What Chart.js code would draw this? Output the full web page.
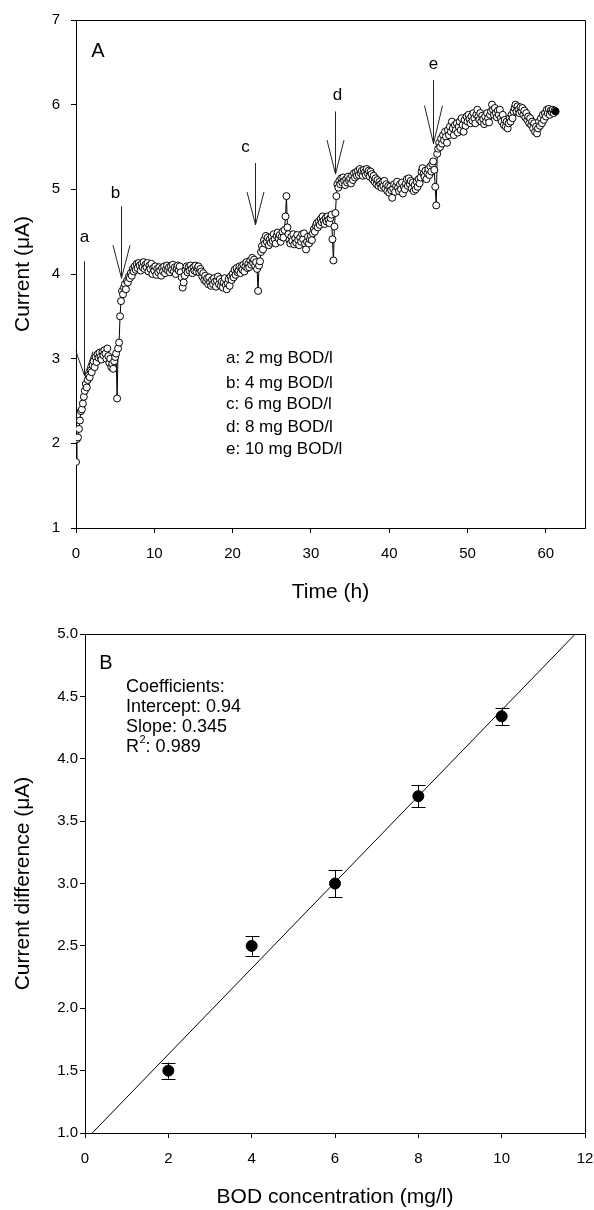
<!DOCTYPE html>
<html>
<head>
<meta charset="utf-8">
<script src="https://cdn.jsdelivr.net/npm/chart.js@4.4.1/dist/chart.umd.min.js"></script>
<style>
  html,body{margin:0;padding:0;background:#fff;}
  canvas{display:block;}
</style>
</head>
<body>
<canvas id="chartA" width="594" height="610"></canvas>
<canvas id="chartB" width="594" height="600"></canvas>
<script>
// ---- panel A: sensor current, one reading every 7.5 min (8 per line = 1 h) ----
const sampleHours = 0.125;
const currentA = [
  1.78, 2.05, 2.07, 2.17, 2.27, 2.38, 2.40, 2.47,
  2.55, 2.62, 2.70, 2.66, 2.75, 2.80, 2.78, 2.86,
  2.84, 2.92, 2.97, 2.90, 3.02, 2.96, 3.05, 3.01,
  3.07, 3.02, 2.99, 3.08, 3.04, 3.10, 3.06, 3.00,
  3.12, 3.03, 2.95, 3.00, 2.90, 2.94, 2.88, 2.97,
  3.02, 3.06, 2.53, 3.12, 3.19, 3.50, 3.68, 3.80,
  3.76, 3.84, 3.88, 3.82, 3.92, 3.90, 3.97, 3.95,
  4.01, 3.98, 4.06, 4.03, 4.09, 4.05, 4.12, 4.07,
  4.13, 4.10, 4.04, 4.12, 4.08, 4.14, 4.06, 4.11,
  4.08, 4.13, 4.03, 4.10, 4.06, 4.12, 4.00, 4.07,
  4.04, 4.09, 3.99, 4.06, 4.02, 4.08, 4.04, 3.98,
  4.07, 4.03, 4.09, 4.01, 4.06, 4.10, 4.04, 4.08,
  4.02, 4.09, 4.05, 4.11, 4.03, 4.08, 4.00, 4.07,
  4.10, 4.04, 4.09, 4.02, 3.96, 3.84, 3.90, 3.98,
  4.05, 4.09, 4.02, 4.08, 4.04, 4.10, 4.06, 4.01,
  4.08, 4.04, 4.10, 4.03, 4.07, 4.09, 4.02, 4.06,
  4.03, 3.97, 4.01, 3.93, 3.98, 3.91, 3.95, 3.88,
  3.96, 3.90, 3.86, 3.93, 3.88, 3.95, 3.91, 3.85,
  3.92, 3.97, 3.88, 3.94, 3.86, 3.91, 3.84, 3.90,
  3.95, 3.87, 3.82, 3.89, 3.94, 3.86, 3.97, 3.93,
  4.00, 3.96, 4.05, 3.99, 4.07, 4.02, 4.04, 4.09,
  4.01, 4.08, 4.05, 4.11, 4.03, 4.09, 4.14, 4.07,
  4.12, 4.08, 4.16, 4.11, 4.19, 4.13, 4.17, 4.10,
  4.14, 4.06, 3.80, 4.10, 4.15, 4.26, 4.33, 4.29,
  4.40, 4.36, 4.45, 4.38, 4.43, 4.34, 4.41, 4.37,
  4.44, 4.39, 4.47, 4.41, 4.36, 4.45, 4.49, 4.42,
  4.46, 4.38, 4.44, 4.50, 4.43, 4.52, 4.68, 4.92,
  4.55, 4.47, 4.40, 4.36, 4.44, 4.39, 4.47, 4.35,
  4.42, 4.37, 4.46, 4.40, 4.34, 4.43, 4.38, 4.47,
  4.41, 4.48, 4.36, 4.29, 4.38, 4.44, 4.36, 4.41,
  4.45, 4.40, 4.48, 4.53, 4.50, 4.57, 4.60, 4.55,
  4.62, 4.58, 4.65, 4.61, 4.68, 4.63, 4.59, 4.66,
  4.62, 4.68, 4.64, 4.60, 4.66, 4.70, 4.41, 4.16,
  4.56, 4.72, 4.92, 5.06, 5.02, 5.10, 5.06, 5.13,
  5.08, 5.14, 5.10, 5.05, 5.12, 5.08, 5.15, 5.10,
  5.13, 5.07, 5.16, 5.11, 5.19, 5.14, 5.20, 5.16,
  5.22, 5.17, 5.24, 5.19, 5.22, 5.16, 5.23, 5.20,
  5.17, 5.24, 5.19, 5.22, 5.15, 5.21, 5.18, 5.12,
  5.16, 5.09, 5.13, 5.06, 5.11, 5.04, 5.09, 5.06,
  5.02, 5.08, 5.04, 5.10, 5.01, 5.06, 4.98, 5.04,
  4.96, 5.03, 4.99, 4.90, 5.01, 5.06, 4.97, 5.04,
  5.09, 5.02, 4.98, 5.06, 5.00, 5.08, 4.95, 5.03,
  5.00, 5.07, 5.12, 5.04, 5.13, 5.06, 5.10, 5.01,
  5.08, 4.98, 5.05, 5.00, 5.09, 5.03, 5.12, 5.07,
  5.14, 5.21, 5.25, 5.18, 5.15, 5.22, 5.12, 5.19,
  5.24, 5.17, 5.27, 5.21, 5.30, 5.33, 5.23, 5.03,
  4.81, 5.42, 5.48, 5.55, 5.50, 5.60, 5.54, 5.64,
  5.58, 5.68, 5.62, 5.55, 5.70, 5.64, 5.74, 5.68,
  5.80, 5.72, 5.64, 5.76, 5.70, 5.78, 5.67, 5.74,
  5.80, 5.70, 5.84, 5.76, 5.68, 5.82, 5.75, 5.86,
  5.80, 5.88, 5.83, 5.78, 5.86, 5.81, 5.90, 5.84,
  5.78, 5.88, 5.94, 5.86, 5.82, 5.90, 5.80, 5.87,
  5.83, 5.77, 5.86, 5.80, 5.90, 5.84, 5.79, 5.88,
  5.92, 6.00, 5.94, 5.88, 5.96, 5.90, 5.85, 5.93,
  5.88, 5.94, 5.84, 5.80, 5.88, 5.76, 5.82, 5.74,
  5.80, 5.72, 5.78, 5.84, 5.80, 5.88, 5.84, 5.92,
  5.96, 6.00, 5.92, 5.98, 5.94, 5.90, 5.97, 5.92,
  5.96, 5.88, 5.93, 5.85, 5.90, 5.82, 5.86, 5.78,
  5.84, 5.76, 5.80, 5.72, 5.78, 5.68, 5.74, 5.66,
  5.72, 5.80, 5.75, 5.84, 5.78, 5.88, 5.82, 5.90,
  5.86, 5.94, 5.90, 5.95, 5.88, 5.93, 5.91, 5.94,
  5.90, 5.93, 5.92
];

// BOD additions (arrows)
const additionKeys = ['a', 'b', 'c', 'd', 'e'];
const additionDoses = ['2 mg BOD/l', '4 mg BOD/l', '6 mg BOD/l', '8 mg BOD/l', '10 mg BOD/l'];
const additionTimes = [1.0, 5.8, 22.8, 33.1, 45.6];
const arrowStart = [4.15, 4.80, 5.31, 5.92, 6.29];
const arrowEnd = [2.80, 3.95, 4.58, 5.18, 5.54];

// ---- panel B: calibration ----
const bodConc = [2, 4, 6, 8, 10];
const currentDiff = [1.50, 2.50, 3.00, 3.70, 4.34];
const currentDiffErr = [0.065, 0.08, 0.11, 0.09, 0.07];
const fitIntercept = 0.94;
const fitSlope = 0.345;
const fitR2 = 0.989;

const FONT = 'Arial, "Liberation Sans", Helvetica, sans-serif';
Chart.defaults.font.family = FONT;
Chart.defaults.color = '#000';

// label placement for the arrows (text offset in px from arrow top)
const arrowLabelOffset = [[0, -24], [-6, -13], [-10, -16], [2, -16], [0, -16]];
const arrowHead = [[8.5, 24], [8.5, 33], [8.5, 33], [8.5, 34], [9, 38]];

const frame = {
  id: 'frame',
  afterDraw(chart) {
    const {ctx, chartArea: a} = chart;
    ctx.save();
    ctx.strokeStyle = '#000';
    ctx.lineWidth = 1;
    ctx.beginPath();
    ctx.moveTo(a.left, a.top + 0.5);
    ctx.lineTo(a.right + 0.5, a.top + 0.5);
    ctx.lineTo(a.right + 0.5, a.bottom);
    ctx.stroke();
    ctx.restore();
  }
};

const notesA = {
  id: 'notesA',
  afterDraw(chart) {
    const {ctx, chartArea: a, scales: {x, y}} = chart;
    ctx.save();
    ctx.fillStyle = '#000';
    ctx.font = '20px ' + FONT;
    ctx.textAlign = 'center';
    ctx.textBaseline = 'middle';
    ctx.fillText('A', a.left + 22, a.top + 31);

    // arrows
    ctx.strokeStyle = '#222';
    ctx.lineWidth = 1;
    ctx.font = '17px ' + FONT;
    additionTimes.forEach((t, i) => {
      const px = Math.round(x.getPixelForValue(t)) + 0.5;
      const top = y.getPixelForValue(arrowStart[i]);
      const tip = y.getPixelForValue(arrowEnd[i]);
      const [hw, hh] = arrowHead[i];
      ctx.beginPath();
      ctx.moveTo(px, top);
      ctx.lineTo(px, tip);
      ctx.moveTo(px - hw, tip - hh);
      ctx.lineTo(px, tip);
      ctx.lineTo(px + hw, tip - hh);
      ctx.stroke();
      const [dx, dy] = arrowLabelOffset[i];
      ctx.fillText(additionKeys[i], px + dx, top + dy);
    });

    // key
    ctx.textAlign = 'left';
    const rows = [338, 363, 384, 407, 429];
    additionKeys.forEach((k, i) => {
      ctx.fillText(k + ': ' + additionDoses[i], a.left + 150, a.top + rows[i]);
    });
    ctx.restore();
  }
};

const notesB = {
  id: 'notesB',
  afterDatasetsDraw(chart) {
    const {ctx, scales: {x, y}} = chart;
    ctx.save();
    ctx.strokeStyle = '#000';
    ctx.lineWidth = 1;
    bodConc.forEach((c, i) => {
      const px = Math.round(x.getPixelForValue(c)) + 0.5;
      const hi = y.getPixelForValue(currentDiff[i] + currentDiffErr[i]);
      const lo = y.getPixelForValue(currentDiff[i] - currentDiffErr[i]);
      ctx.beginPath();
      ctx.moveTo(px, hi); ctx.lineTo(px, lo);
      ctx.moveTo(px - 7, Math.round(hi) + 0.5); ctx.lineTo(px + 7, Math.round(hi) + 0.5);
      ctx.moveTo(px - 7, Math.round(lo) + 0.5); ctx.lineTo(px + 7, Math.round(lo) + 0.5);
      ctx.stroke();
    });
    ctx.restore();
  },
  afterDraw(chart) {
    const {ctx, chartArea: a} = chart;
    ctx.save();
    ctx.fillStyle = '#000';
    ctx.font = '20px ' + FONT;
    ctx.textAlign = 'center';
    ctx.textBaseline = 'middle';
    ctx.fillText('B', a.left + 21, a.top + 29);
    ctx.textAlign = 'left';
    ctx.font = '18px ' + FONT;
    const lx = a.left + 41;
    ctx.fillText('Coefficients:', lx, a.top + 53);
    ctx.fillText('Intercept: ' + fitIntercept.toFixed(2), lx, a.top + 73);
    ctx.fillText('Slope: ' + fitSlope.toFixed(3), lx, a.top + 93);
    ctx.fillText('R', lx, a.top + 113);
    const rw = ctx.measureText('R').width;
    ctx.font = '11px ' + FONT;
    ctx.fillText('2', lx + rw + 0.5, a.top + 106);
    const sw = ctx.measureText('2').width;
    ctx.font = '18px ' + FONT;
    ctx.fillText(': ' + fitR2.toFixed(3), lx + rw + sw + 0.5, a.top + 113);
    ctx.restore();
  }
};

function axisStyle(extra) {
  return Object.assign({
    type: 'linear',
    border: {display: true, color: '#000', width: 1},
    grid: {drawOnChartArea: false, drawTicks: true, tickLength: 5, color: '#000'}
  }, extra);
}

new Chart(document.getElementById('chartA').getContext('2d'), {
  type: 'scatter',
  data: {
    datasets: [{
      data: currentA.map((v, i) => ({x: i * sampleHours, y: v})),
      showLine: true,
      borderColor: '#000',
      borderWidth: 1,
      pointRadius: 3.5,
      pointBorderWidth: 1,
      pointBorderColor: '#000',
      pointBackgroundColor: ctx => ctx.dataIndex === currentA.length - 1 ? '#000' : '#fff'
    }]
  },
  options: {
    responsive: false,
    animation: false,
    layout: {padding: {top: 19, right: 9, left: 0, bottom: 0}},
    plugins: {legend: {display: false}, tooltip: {enabled: false}},
    scales: {
      x: axisStyle({
        min: 0, max: 65,
        ticks: {stepSize: 10, includeBounds: false, padding: 12, font: {size: 15}},
        title: {display: true, text: 'Time (h)', font: {size: 21}, padding: {top: 0, bottom: 5}},
        afterFit(s) { s.height = 82; s.paddingLeft = 0; s.paddingRight = 0; }
      }),
      y: axisStyle({
        min: 1, max: 7,
        ticks: {stepSize: 1, padding: 11, font: {size: 15}},
        title: {display: true, text: 'Current (μA)', font: {size: 21}, padding: {top: 11, bottom: 0}},
        afterFit(s) { s.width = 76; }
      })
    }
  },
  plugins: [frame, notesA]
});

new Chart(document.getElementById('chartB').getContext('2d'), {
  type: 'scatter',
  data: {
    datasets: [{
      data: bodConc.map((c, i) => ({x: c, y: currentDiff[i]})),
      pointRadius: 5.5,
      pointBackgroundColor: '#000',
      pointBorderColor: '#000',
      order: 0
    }, {
      // regression line from the reported coefficients
      data: [0, 12].map(c => ({x: c, y: fitIntercept + fitSlope * c})),
      showLine: true,
      borderColor: '#000',
      borderWidth: 1,
      pointRadius: 0,
      order: 1
    }]
  },
  options: {
    responsive: false,
    animation: false,
    layout: {padding: {top: 24, right: 9, left: 0, bottom: 0}},
    plugins: {legend: {display: false}, tooltip: {enabled: false}},
    scales: {
      x: axisStyle({
        min: 0, max: 12,
        ticks: {stepSize: 2, padding: 12, font: {size: 15}},
        title: {display: true, text: 'BOD concentration (mg/l)', font: {size: 21}, padding: {top: 0, bottom: 0}},
        afterFit(s) { s.height = 77; s.paddingLeft = 0; s.paddingRight = 0; }
      }),
      y: axisStyle({
        min: 1, max: 5,
        ticks: {stepSize: 0.5, padding: 2, font: {size: 15}, callback: v => v.toFixed(1)},
        title: {display: true, text: 'Current difference (μA)', font: {size: 21}, padding: {top: 11, bottom: 0}},
        afterFit(s) { s.width = 85; }
      })
    }
  },
  plugins: [frame, notesB]
});
</script>
</body>
</html>
